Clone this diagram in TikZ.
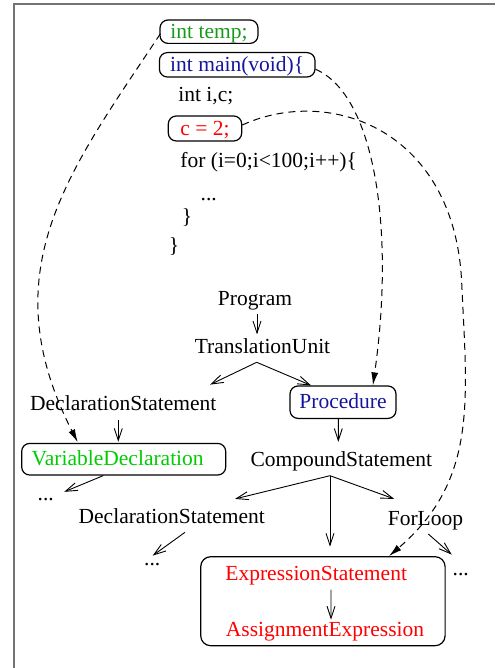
\documentclass[tikz,border=0pt]{standalone}
\usepackage{fontspec}
\setmainfont{Liberation Serif}
\usetikzlibrary{arrows.meta,calc}
\definecolor{tgreen}{rgb}{0.1,0.6,0.1}
\definecolor{vgreen}{rgb}{0.0,0.8,0.0}
\definecolor{pblue}{rgb}{0.08,0.08,0.62}
\definecolor{framegray}{gray}{0.45}
\begin{document}
\begin{tikzpicture}[x=0.5pt,y=-0.5pt,
  every node/.style={font=\fontsize{10.75pt}{13pt}\selectfont},
  lbl/.style={anchor=base, inner sep=2pt, text height=7.5pt, text depth=2.3pt},
  codeline/.style={anchor=base west, inner sep=0pt},
  plain/.style={anchor=base, inner sep=0pt},
  rbox/.style={draw, line width=0.6pt, rounded corners=4pt, inner sep=0pt, text height=8.6pt, text depth=2pt},
  grpbox/.style={draw, line width=0.6pt, rounded corners=5pt, inner sep=0pt},
  tarrow/.style={line width=0.45pt, -{Straight Barb[length=6pt,width=4pt]}},
  link/.style={line width=0.5pt, dash pattern=on 3.5pt off 2.5pt, -{Latex[length=6.5pt,width=3.5pt]}},
]
\useasboundingbox (0,0) rectangle (495,668);
\draw[framegray, line width=1pt] (14,668) -- (14,4) -- (495,4);

% code
\node[rbox, minimum width=49pt, minimum height=11.7pt, text=tgreen] (temp) at (209,31.7) {int temp;};
\node[rbox, minimum width=77.8pt, minimum height=12.2pt, text=pblue] (main) at (237.2,64.8) {int main(void)\{};
\node[codeline] (decl) at (178,101.7) {int i,c;};
\node[rbox, minimum width=36.7pt, minimum height=12.5pt, text=red] (c2) at (205,128.5) {c = 2;};
\node[codeline] (forl) at (180,167.3) {for (i=0;i<100;i++)\{};
\node[plain] (cdots) at (208.8,200) {...};
\node[plain] (cb1) at (187,223) {\}};
\node[plain] (cb2) at (174,252) {\}};

% tree
\node[lbl] (prog) at (255,305) {Program};
\node[lbl] (tu) at (262.5,353.3) {TranslationUnit};
\node[lbl] (ds1) at (123.3,410.7) {DeclarationStatement};
\node[rbox, minimum width=53pt, minimum height=16.2pt, text=pblue] (proc) at (343,402.2) {Procedure};
\node[rbox, minimum width=102pt, minimum height=15.8pt, text=vgreen] (var) at (123.7,459.2) {VariableDeclaration\hspace*{6pt}};
\node[lbl] (cs) at (341.3,466.7) {CompoundStatement};
\node[lbl] (dots1) at (45.8,500) {...};
\node[lbl] (ds2) at (171.8,523.3) {DeclarationStatement};
\node[lbl] (fl) at (425.5,525) {ForLoop};
\node[lbl] (dots2) at (152.2,565) {...};
\node[lbl] (dots3) at (460.7,575) {...};
\node[grpbox, minimum width=122.2pt, minimum height=44.5pt] (grp) at (322.9,601.2) {};
\node[lbl, text=red] (es) at (316.2,580.7) {ExpressionStatement};
\node[lbl, text=red] (ae) at (325,636.7) {AssignmentExpression};

% tree arrows
\draw[tarrow] ($(prog.south)+(2,0)$) -- ($(tu.north)+(-5.5,0.5)$);
\draw[tarrow] ($(tu.south)+(-5.8,0)$) -- ($(ds1.north east)+(-10.7,-6.7)$);
\draw[tarrow] ($(tu.south)+(-5.8,0)$) -- ($(proc.north west)+(21.7,0)$);
\draw[tarrow] ($(ds1.south)+(-5,0)$) -- ($(var.north)+(-5.4,-1)$);
\draw[tarrow] ($(proc.south)+(-4.7,0)$) -- ($(cs.north)+(-3,-5.4)$);
\draw[tarrow] ($(var.south)+(-20.4,0)$) -- ($(dots1.east)+(6,-3)$);
\draw[tarrow] ($(cs.south)+(-11.3,0)$) -- ($(ds2.north east)+(-34.3,-5)$);
\draw[tarrow] ($(cs.south)+(-11.3,0)$) -- ($(grp.north)+(7.1,-9.4)$);
\draw[tarrow] ($(cs.south)+(-11.3,0)$) -- ($(fl.north west)+(10.7,-6.7)$);
\draw[tarrow] ($(ds2.south)+(13.2,0)$) -- ($(dots2.north)+(0.5,10)$);
\draw[tarrow] ($(fl.south)+(2.8,0)$) -- ($(dots3.north)+(-9,-1)$);
\draw[tarrow] ($(es.south)+(14.8,0)$) -- ($(ae.north)+(6,2.3)$);

% dashed links
\draw[link] ($(temp.west)+(1,2)$) .. controls (70,170) and (-10,270) .. ($(var.north west)+(56.6,-0.6)$);
\draw[link] ($(main.east)+(0,4.5)$) .. controls (375,95) and (395,230) .. ($(proc.north east)+(-23.7,0)$);
\draw[link] ($(c2.east)+(0,-3.5)$) .. controls (330,85) and (455,130) .. (461.7,283) .. controls (467,400) and (478,480) .. ($(grp.north east)+(-56.7,0)$);
\end{tikzpicture}
\end{document}
